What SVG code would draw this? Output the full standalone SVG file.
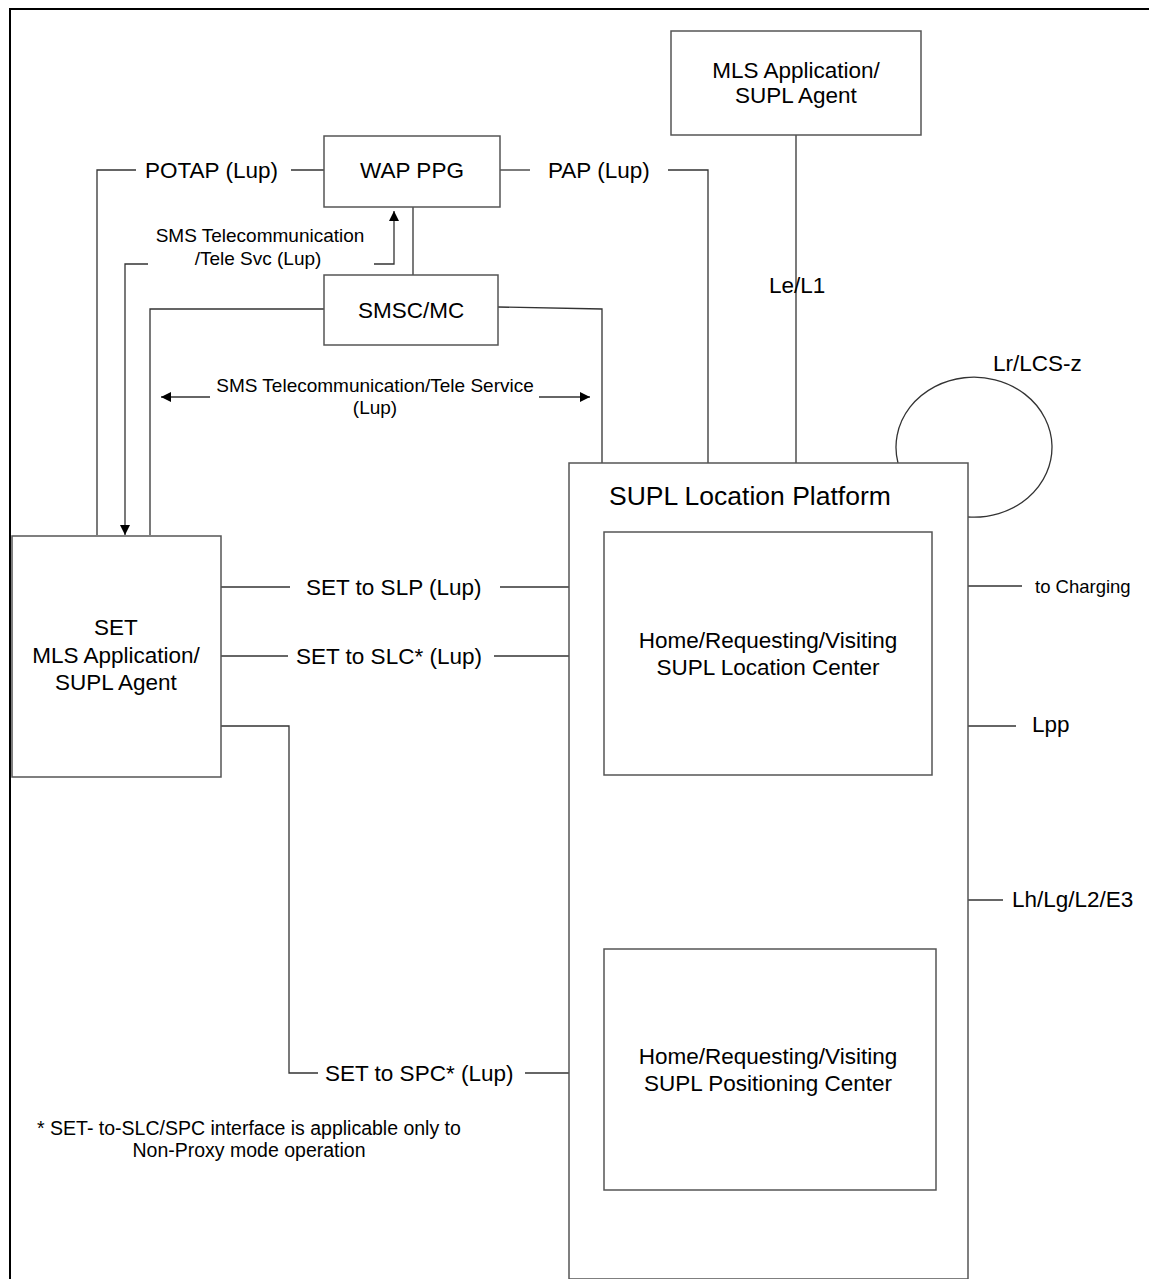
<svg xmlns="http://www.w3.org/2000/svg" width="1149" height="1279" viewBox="0 0 1149 1279">
<style>
.box{fill:#fff;stroke:#555;stroke-width:1.5}
.ln{fill:none;stroke:#333;stroke-width:1.3}
.t{font-family:"Liberation Sans",Arial,sans-serif;font-size:22.5px;fill:#000}
.s{font-family:"Liberation Sans",Arial,sans-serif;font-size:19px;fill:#000}
.f{font-family:"Liberation Sans",Arial,sans-serif;font-size:19.5px;fill:#000}
.c{text-anchor:middle}
</style>
<defs>
<marker id="ah" viewBox="0 0 10 10" refX="10" refY="5" markerWidth="10" markerHeight="10" markerUnits="userSpaceOnUse" orient="auto">
<path d="M0,0 L10,5 L0,10 z" fill="#000"/>
</marker>
</defs>
<rect width="1149" height="1279" fill="#fff"/>
<g id="frame">
<path d="M10,1279 L10,9 L1149,9" fill="none" stroke="#000" stroke-width="2"/>
</g>
<g id="connectors">
<path class="ln" d="M97,535 L97,170 L136,170"/>
<path class="ln" d="M291,170 L324,170"/>
<path class="ln" d="M500,170 L530,170"/>
<path class="ln" d="M668,170 L708,170 L708,463"/>
<path class="ln" d="M413,207 L413,275"/>
<path class="ln" d="M374,264 L394,264 L394,211" marker-end="url(#ah)"/>
<path class="ln" d="M148,264 L125,264 L125,535" marker-end="url(#ah)"/>
<path class="ln" d="M324,309 L150,309 L150,535"/>
<path class="ln" d="M498,307 L602,309 L602,463"/>
<path class="ln" d="M210,397 L161,397" marker-end="url(#ah)"/>
<path class="ln" d="M539,397 L590,397" marker-end="url(#ah)"/>
<path class="ln" d="M796,134 L796,463"/>
<path class="ln" d="M898,463 A78 70 0 1 1 968,517"/>
<path class="ln" d="M220,587 L290,587"/>
<path class="ln" d="M500,587 L569,587"/>
<path class="ln" d="M220,656 L288,656"/>
<path class="ln" d="M494,656 L604,656"/>
<path class="ln" d="M221,726 L289,726 L289,1073 L318,1073"/>
<path class="ln" d="M525,1073 L604,1073"/>
<path class="ln" d="M773,775 L773,949"/>
<path class="ln" d="M968,586 L1022,586"/>
<path class="ln" d="M968,726 L1016,726"/>
<path class="ln" d="M968,900 L1003,900"/>
</g>
<g id="labels">
<text class="t" x="145" y="178">POTAP (Lup)</text>
<text class="t" x="548" y="178">PAP (Lup)</text>
<text class="s c" x="260" y="242">SMS Telecommunication</text>
<text class="s c" x="258" y="265">/Tele Svc (Lup)</text>
<text class="s c" x="375" y="392">SMS Telecommunication/Tele Service</text>
<text class="s c" x="375" y="414">(Lup)</text>
<text class="t" x="769" y="293">Le/L1</text>
<text class="t" x="993" y="371">Lr/LCS-z</text>
<text class="t" x="306" y="595">SET to SLP (Lup)</text>
<text class="t" x="296" y="664">SET to SLC* (Lup)</text>
<text class="t" x="325" y="1081">SET to SPC* (Lup)</text>
<text x="1035" y="593" style="font-family:'Liberation Sans',Arial,sans-serif;font-size:18.5px">to Charging</text>
<text class="t" x="1032" y="732">Lpp</text>
<text class="t" x="1012" y="907">Lh/Lg/L2/E3</text>
<text class="f c" x="249" y="1135">* SET- to-SLC/SPC interface is applicable only to</text>
<text class="f c" x="249" y="1157">Non-Proxy mode operation</text>
</g>
<g id="mls">
<rect class="box" x="671" y="31" width="250" height="104"/>
<text class="t c" x="796" y="78">MLS Application/</text>
<text class="t c" x="796" y="103">SUPL Agent</text>
</g>
<g id="wap">
<rect class="box" x="324" y="136" width="176" height="71"/>
<text class="t c" x="412" y="178">WAP PPG</text>
</g>
<g id="smsc">
<rect class="box" x="324" y="275" width="174" height="70"/>
<text class="t c" x="411" y="318">SMSC/MC</text>
</g>
<g id="set">
<rect class="box" x="12" y="536" width="209" height="241"/>
<text class="t c" x="116" y="635">SET</text>
<text class="t c" x="116" y="663">MLS Application/</text>
<text class="t c" x="116" y="690">SUPL Agent</text>
</g>
<g id="slp">
<rect class="box" x="569" y="463" width="399" height="816"/>
<text x="609" y="505" style="font-family:'Liberation Sans',Arial,sans-serif;font-size:26.5px">SUPL Location Platform</text>
</g>
<g id="slc">
<rect class="box" x="604" y="532" width="328" height="243"/>
<text class="t c" x="768" y="648">Home/Requesting/Visiting</text>
<text class="t c" x="768" y="675">SUPL Location Center</text>
</g>
<g id="spc">
<rect class="box" x="604" y="949" width="332" height="241"/>
<text class="t c" x="768" y="1064">Home/Requesting/Visiting</text>
<text class="t c" x="768" y="1091">SUPL Positioning Center</text>
</g>
</svg>
